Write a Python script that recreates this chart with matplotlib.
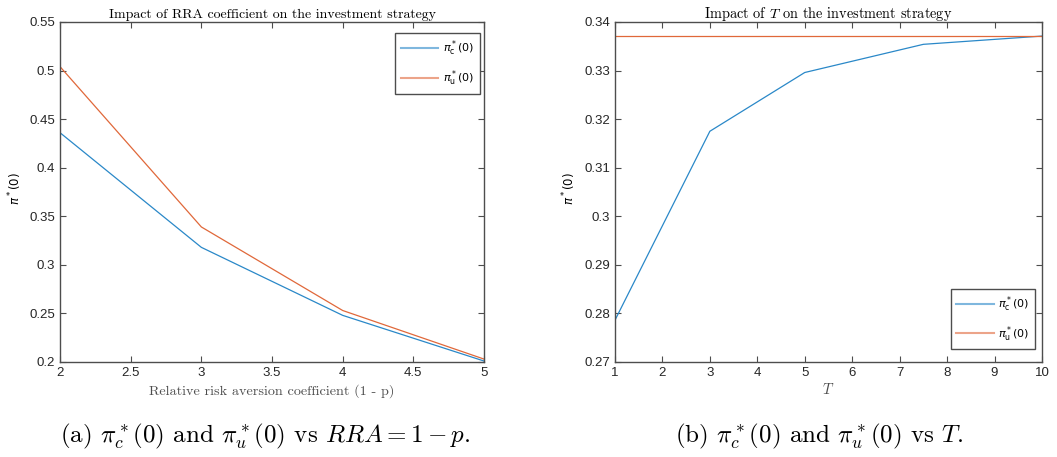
import matplotlib
matplotlib.use("Agg")
import matplotlib.pyplot as plt
from matplotlib.font_manager import FontProperties
from matplotlib.ticker import FormatStrFormatter, MultipleLocator

# ── data ──────────────────────────────────────────────────────────
rra = [2, 3, 4, 5]
pi_c_rra = [0.436, 0.318, 0.248, 0.201]
pi_u_rra = [0.504, 0.339, 0.253, 0.203]

horizon = [1, 3, 5, 7.5, 10]
pi_c_T = [0.2786, 0.3175, 0.3296, 0.3354, 0.3371]
pi_u_T = [0.3372, 0.3372, 0.3372, 0.3372, 0.3372]

BLUE = '#2a88c8'
ORANGE = '#e0683a'
AXC = '#4d4d4d'

plt.rcParams['mathtext.fontset'] = 'cm'
tick_font = 'Liberation Sans'
serif = 'cmr10'
leg_prop = FontProperties(family=tick_font, size=8, math_fontfamily='dejavusans')
ylab_prop = FontProperties(family=tick_font, size=8.5, math_fontfamily='dejavusans')


def style_axes(ax):
    for s in ax.spines.values():
        s.set_color(AXC)
        s.set_linewidth(1.0)
    ax.tick_params(direction='in', top=True, right=True, length=4, width=0.8,
                   color=AXC, labelsize=9.5, labelcolor='#262626')
    for lab in ax.get_xticklabels() + ax.get_yticklabels():
        lab.set_fontfamily(tick_font)
    ax.xaxis.set_major_formatter(FormatStrFormatter('%g'))
    ax.yaxis.set_major_formatter(FormatStrFormatter('%g'))


def add_legend(ax, loc, anchor):
    leg = ax.legend(loc=loc, bbox_to_anchor=anchor, prop=leg_prop,
                    fancybox=False, framealpha=1,
                    handlelength=3.4, handletextpad=0.4, borderpad=0.5,
                    labelspacing=0.9, borderaxespad=0.0)
    leg.get_frame().set_edgecolor(AXC)
    leg.get_frame().set_linewidth(1.0)
    for h in leg.get_lines():
        h.set_alpha(0.6)
        h.set_linewidth(1.5)
    return leg


fig = plt.figure(figsize=(10.57, 4.57), dpi=100)

# (a) RRA coefficient
ax1 = fig.add_axes([0.0568, 0.2079, 0.4011, 0.744])
ax1.plot(rra, pi_c_rra, color=BLUE, lw=0.9, label=r'$\pi^*_{\mathrm{c}}(0)$')
ax1.plot(rra, pi_u_rra, color=ORANGE, lw=0.9, label=r'$\pi^*_{\mathrm{u}}(0)$')
ax1.set_xlim(2, 5)
ax1.set_ylim(0.2, 0.55)
ax1.xaxis.set_major_locator(MultipleLocator(0.5))
ax1.yaxis.set_major_locator(MultipleLocator(0.05))
style_axes(ax1)
ax1.set_title('Impact of RRA coefficient on the investment strategy',
              fontfamily=serif, fontsize=10, pad=3)
ax1.set_xlabel('Relative risk aversion coefficient (1 - p)',
               fontfamily=serif, fontsize=10.2, color='#4d4d4d', labelpad=4)
ax1.set_ylabel(r'$\pi^*(0)$', fontproperties=ylab_prop)
ax1.yaxis.set_label_coords(-0.085, 0.51)
add_legend(ax1, 'upper right', (0.99, 0.967))

# (b) horizon T
ax2 = fig.add_axes([0.5818, 0.2079, 0.404, 0.744])
ax2.plot(horizon, pi_c_T, color=BLUE, lw=0.9, label=r'$\pi^*_{\mathrm{c}}(0)$')
ax2.plot(horizon, pi_u_T, color=ORANGE, lw=0.9, label=r'$\pi^*_{\mathrm{u}}(0)$')
ax2.set_xlim(1, 10)
ax2.set_ylim(0.27, 0.34)
ax2.xaxis.set_major_locator(MultipleLocator(1))
ax2.yaxis.set_major_locator(MultipleLocator(0.01))
style_axes(ax2)
ax2.set_title(r'Impact of $T$ on the investment strategy',
              fontfamily=serif, fontsize=10.3, pad=3)
ax2.set_xlabel(r'$T$', fontsize=10.5, color='#4d4d4d', labelpad=2)
ax2.set_ylabel(r'$\pi^*(0)$', fontproperties=ylab_prop)
ax2.yaxis.set_label_coords(-0.086, 0.51)
add_legend(ax2, 'lower right', (0.984, 0.038))

# captions
fig.text(0.251, 0.045, r'(a) $\pi^*_c(0)$ and $\pi^*_u(0)$ vs $RRA = 1 - p$.',
         ha='center', va='center', fontfamily=serif, fontsize=18)
fig.text(0.775, 0.045, r'(b) $\pi^*_c(0)$ and $\pi^*_u(0)$ vs $T$.',
         ha='center', va='center', fontfamily=serif, fontsize=18)

fig.savefig('out.png', dpi=100)
